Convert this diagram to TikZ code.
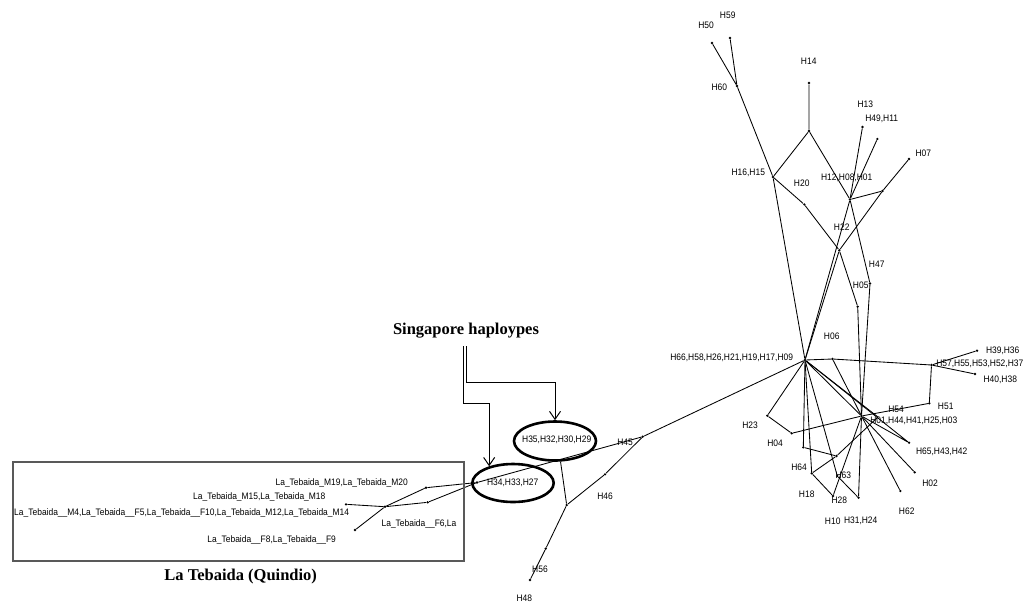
\documentclass[tikz,border=0pt]{standalone}
\usepackage{fontspec}
\setmainfont{Liberation Serif}
\setsansfont{Liberation Sans}
\newfontfamily\labfont[FakeStretch=0.9]{Liberation Sans}
\usepackage{tikz}
\usetikzlibrary{arrows.meta, shapes.geometric}

\tikzset{
    hap/.style={circle, fill, inner sep=0pt, minimum size=2.6pt},
    lab/.style={font=\labfont\fontsize{9.4}{10}\selectfont, inner sep=0pt},
    link/.style={line width=0.85pt},
    ring/.style={ellipse, draw, line width=2.6pt, inner sep=0pt},
    pointer/.style={line width=1pt, -{Straight Barb[length=8pt, width=11pt]}},
    heading/.style={font=\rmfamily\bfseries\fontsize{16.5}{18}\selectfont, inner sep=0pt}
}

\begin{document}
\begin{tikzpicture}[x=1pt, y=-1pt]
        \useasboundingbox (0, 0) rectangle (1024, 603);

        % upper branch
        \node [hap] (h50) at (712, 43) {};
        \node [hap] (h59) at (730, 38) {};
        \node [hap] (h60) at (737, 86) {};
        \node [hap] (h14) at (809, 83) {};
        \node [hap] (n809) at (809, 131) {};
        \node [hap] (h16) at (773, 177) {};
        \node [hap] (h13) at (862.5, 127) {};
        \node [hap] (h49) at (877.3, 139) {};
        \node [hap] (h07) at (909, 159) {};
        \node [hap] (h12) at (850, 199.5) {};
        \node [hap] (n882) at (882.5, 191) {};
        \node [hap] (h20) at (804.3, 204.5) {};
        \node [hap] (h22) at (839.3, 250.3) {};
        \node [hap] (h05) at (870, 283.5) {};
        \node [hap] (n857) at (857.7, 306.7) {};

        % central cluster
        \node [hap] (hub) at (805, 360) {};
        \node [hap] (h06) at (832.5, 359) {};
        \node [hap] (h57) at (931.5, 365) {};
        \node [hap] (h39) at (977, 350.7) {};
        \node [hap] (h40) at (975, 374) {};
        \node [hap] (h51) at (929.3, 403.3) {};
        \node [hap] (h01) at (861.5, 416) {};
        \coordinate (h54) at (878, 417);
        \node [hap] (h23) at (767.3, 415.7) {};
        \node [hap] (h04) at (791.7, 433.3) {};
        \node [hap] (na) at (803.3, 447.3) {};
        \node [hap] (nb) at (836.5, 456) {};
        \node [hap] (h64) at (811.7, 473.3) {};
        \node [hap] (h63) at (837.3, 476) {};
        \node [hap] (h28) at (833, 496) {};
        \node [hap] (h31) at (858.5, 497.7) {};
        \node [hap] (h65) at (909, 442.7) {};
        \node [hap] (h02) at (914.7, 472.3) {};
        \node [hap] (h62) at (900.3, 491) {};

        % lower branch
        \node [hap] (h45) at (642.7, 436.7) {};
        \node [hap] (h46) at (605, 474.3) {};
        \node [hap] (n567) at (566.7, 505) {};
        \node [hap] (h56) at (545.7, 548.7) {};
        \node [hap] (h48) at (530, 580) {};
        \node [ring, minimum width=82pt, minimum height=39pt] (r35) at (555, 441) {};
        \node [ring, minimum width=81.4pt, minimum height=38pt] (r34) at (513, 483) {};
        \node [hap] (h34) at (477, 482.5) {};
        \node [hap] (ta) at (426, 487.7) {};
        \node [hap] (tb) at (427.7, 502.3) {};
        \node [hap] (tc) at (385, 506.7) {};
        \node [hap] (td) at (346, 504.3) {};
        \node [hap] (te) at (355, 530) {};

        \draw [link] (h50) -- (h60) -- (h59);
        \draw [link] (h60) -- (h16);
        \draw [link] (h16) -- (n809) -- (h14);
        \draw [link] (n809) -- (h12);
        \draw [link] (h16) -- (h20) -- (h22) -- (n857);
        \draw [link] (h16) -- (hub);
        \draw [link] (h12) -- (h13);
        \draw [link] (h12) -- (h49);
        \draw [link] (h12) -- (n882) -- (h07);
        \draw [link] (n882) -- (h22) -- (hub);
        \draw [link] (h12) -- (hub);
        \draw [link] (h12) -- (h05) -- (h01);
        \draw [link] (n857) -- (h01);

        \draw [link] (hub) -- (h06) -- (h57);
        \draw [link] (h57) -- (h39);
        \draw [link] (h57) -- (h40);
        \draw [link] (h57) -- (h51);
        \draw [link] (h06) -- (h01);
        \draw [link] (hub) -- (h23) -- (h04) -- (h01) -- (h51);
        \draw [link] (hub) -- (na) -- (nb) -- (h54) -- (hub);
        \draw [link] (hub) -- (h64) -- (nb);
        \draw [link] (h64) -- (h28) -- (h01);
        \draw [link] (hub) -- (h63) -- (h31);
        \draw [link] (hub) -- (h01) -- (h31);
        \draw [link] (hub) -- (h65) -- (h01);
        \draw [link] (h01) -- (h02);
        \draw [link] (h01) -- (h62);

        \draw [link] (hub) -- (h45) -- (h34);
        \draw [link] (h45) -- (h46) -- (n567) -- (h56) -- (h48);
        \draw [link] (n567) -- (r35.-75);
        \draw [link] (h34) -- (ta) -- (tc);
        \draw [link] (h34) -- (tb) -- (tc);
        \draw [link] (tc) -- (td);
        \draw [link] (tc) -- (te);

        % labels
        \node [lab] (l50) at (706, 25) {H50};
        \node [lab] (l59) at (727.7, 15) {H59};
        \node [lab] (l60) at (719.3, 87.3) {H60};
        \node [lab] (l14) at (808.7, 61) {H14};
        \node [lab] (l13) at (865.3, 104.3) {H13};
        \node [lab] (l49) at (881.7, 118.7) {H49,H11};
        \node [lab] (l07) at (923.3, 153.3) {H07};
        \node [lab] (l16) at (748.3, 173.3) {H16,H15};
        \node [lab] (l12) at (846.7, 177.7) {H12,H08,H01};
        \node [lab] (l20) at (801.7, 183.3) {H20};
        \node [lab] (l22) at (841.7, 227.3) {H22};
        \node [lab] (l47) at (876.7, 264) {H47};
        \node [lab] (l05) at (860.7, 285) {H05};
        \node [lab] (l06) at (831.7, 336.7) {H06};
        \node [lab] (l66) at (731.7, 357.7) {H66,H58,H26,H21,H19,H17,H09};
        \node [lab] (l39) at (1002.7, 350.7) {H39,H36};
        \node [lab, anchor=east] (l57) at (1023.5, 363.5) {H57,H55,H53,H52,H37};
        \node [lab] (l40) at (1000.3, 380) {H40,H38};
        \node [lab] (l51) at (945.7, 406) {H51};
        \node [lab] (l54) at (896, 409) {H54};
        \node [lab] (l01) at (913.8, 420.7) {H01,H44,H41,H25,H03};
        \node [lab] (l23) at (750, 425) {H23};
        \node [lab] (l04) at (775, 443.3) {H04};
        \node [lab] (l65) at (941.7, 451.7) {H65,H43,H42};
        \node [lab] (l64) at (799, 467.7) {H64};
        \node [lab] (l63) at (843.3, 475.7) {H63};
        \node [lab] (l02) at (930, 483.3) {H02};
        \node [lab] (l18) at (806.7, 494.3) {H18};
        \node [lab] (l28) at (839.3, 500) {H28};
        \node [lab] (l62) at (906.7, 511.7) {H62};
        \node [lab] (l10) at (832.7, 521.7) {H10};
        \node [lab] (l31) at (860.7, 521) {H31,H24};
        \node [lab] (l45) at (625, 442.7) {H45};
        \node [lab] (l46) at (605, 496.7) {H46};
        \node [lab] (l56) at (540, 569.3) {H56};
        \node [lab] (l48) at (524.3, 598) {H48};
        \node [lab] (l35) at (556.7, 440) {H35,H32,H30,H29};
        \node [lab] (l34) at (512.7, 482.7) {H34,H33,H27};

        % La Tebaida group
        \draw [line width=2pt, draw=black!65] (12.7, 461.7) rectangle (464.3, 560.7);
        \node [lab] (lm19) at (341.7, 483.3) {La\_Tebaida\_M19,La\_Tebaida\_M20};
        \node [lab] (lm15) at (259.3, 496.7) {La\_Tebaida\_M15,La\_Tebaida\_M18};
        \node [lab] (lm4) at (181.7, 512.7) {La\_Tebaida\_\_M4,La\_Tebaida\_\_F5,La\_Tebaida\_\_F10,La\_Tebaida\_M12,La\_Tebaida\_M14};
        \node [lab] (lf6) at (419, 524) {La\_Tebaida\_\_F6,La};
        \node [lab] (lf8) at (271.7, 540) {La\_Tebaida\_\_F8,La\_Tebaida\_\_F9};
        \node [heading] (teb) at (240.7, 576.7) {La Tebaida (Quindio)};

        % Singapore pointers
        \node [heading] (sing) at (466, 331) {Singapore haploypes};
        \coordinate (sa) at (466.6, 346);
        \coordinate (sb) at (463.9, 346);
        \draw [pointer] (sa) -- (466.6, 382.7) -| (r35.north);
        \draw [pointer] (sb) -- (463.9, 403.3) -| (r34.145);
\end{tikzpicture}
\end{document}
